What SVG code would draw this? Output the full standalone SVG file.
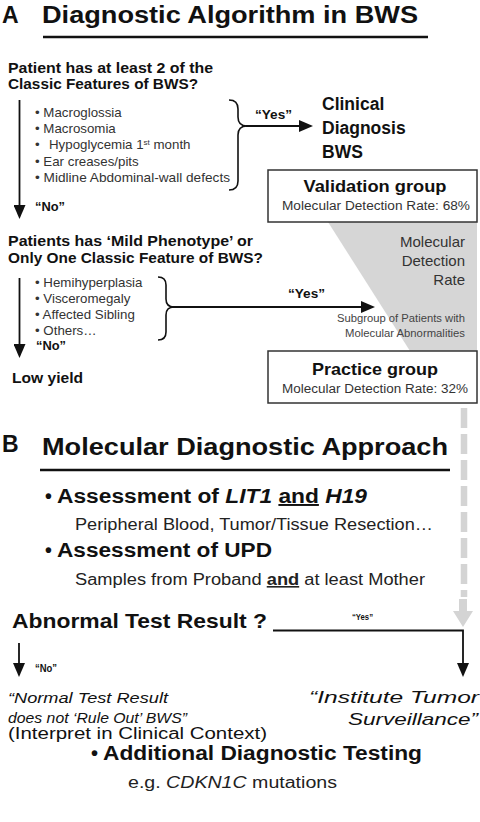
<svg xmlns="http://www.w3.org/2000/svg" width="480" height="822" viewBox="0 0 480 822">
<defs>
<style>
text{font-family:"Liberation Sans",Arial,Helvetica,sans-serif;fill:#111}
.b{font-weight:bold}
.i{font-style:italic}
.big{font-size:23px;font-weight:bold}
.q{font-size:15.5px;font-weight:bold}
.li{font-size:13.3px;fill:#333}
.yn{font-size:12px;font-weight:bold}
.bx{fill:#fff;stroke:#333;stroke-width:1.5}
.gt{font-size:17px;font-weight:bold}
.rt{font-size:12.5px;fill:#333}
.ln{stroke:#111;stroke-width:1.8;fill:none}
.br{stroke:#111;stroke-width:1.6;fill:none}
.h2{font-size:19.5px;font-weight:bold}
.sub{font-size:16px;fill:#222}
.grey{fill:#d6d6d6}
</style>
<marker id="arr" viewBox="0 0 14 12" markerWidth="14" markerHeight="12" markerUnits="userSpaceOnUse" refX="10" refY="6" orient="auto">
<path d="M0,0 L14,6 L0,12 z" fill="#111"/>
</marker>
</defs>
<rect width="480" height="822" fill="#fff"/>

<!-- grey detection-rate band -->
<polygon class="grey" points="328,222 477,222 477,351 410,351"/>

<g id="titleA">
<text x="2" y="23" class="big" font-size="24">A</text>
<text x="42" y="23" class="big" textLength="376" lengthAdjust="spacingAndGlyphs">Diagnostic Algorithm in BWS</text>
<line x1="43" y1="37" x2="428" y2="37" stroke="#111" stroke-width="2.5"/>
</g>

<g id="q1">
<text x="8" y="72.5" class="q" textLength="205" lengthAdjust="spacingAndGlyphs">Patient has at least 2 of the</text>
<text x="8" y="89" class="q" textLength="190" lengthAdjust="spacingAndGlyphs">Classic Features of BWS?</text>
</g>

<g id="q1-features">
<text x="35" y="117" class="li">• Macroglossia</text>
<text x="35" y="133" class="li">• Macrosomia</text>
<text x="35" y="149" class="li">•<tspan x="49">Hypoglycemia 1</tspan><tspan font-size="8" dy="-4.5">st</tspan><tspan dy="4.5"> month</tspan></text>
<text x="35" y="166" class="li">• Ear creases/pits</text>
<text x="35" y="182" class="li" textLength="195" lengthAdjust="spacingAndGlyphs">• Midline Abdominal-wall defects</text>
</g>

<g id="clinical">
<text x="322" y="110" class="b" font-size="17.5">Clinical</text>
<text x="322" y="134" class="b" font-size="17.5">Diagnosis</text>
<text x="322" y="158" class="b" font-size="17.5">BWS</text>
</g>

<g id="validation">
<rect x="268" y="170" width="209" height="52" class="bx"/>
<text x="375" y="192" class="gt" text-anchor="middle" textLength="143" lengthAdjust="spacingAndGlyphs">Validation group</text>
<text x="376" y="210" class="rt" text-anchor="middle" textLength="188" lengthAdjust="spacingAndGlyphs">Molecular Detection Rate: 68%</text>
</g>

<g id="rate-label">
<text x="465" y="247" font-size="15" text-anchor="end" style="fill:#333">Molecular</text>
<text x="465" y="266" font-size="15" text-anchor="end" style="fill:#333">Detection</text>
<text x="465" y="285" font-size="15" text-anchor="end" style="fill:#333">Rate</text>
<text x="465" y="322" font-size="10" text-anchor="end" style="fill:#444" textLength="128" lengthAdjust="spacingAndGlyphs">Subgroup of Patients with</text>
<text x="465" y="337" font-size="10" text-anchor="end" style="fill:#444" textLength="120" lengthAdjust="spacingAndGlyphs">Molecular Abnormalities</text>
</g>

<g id="q2">
<text x="8" y="246" class="q" textLength="245" lengthAdjust="spacingAndGlyphs">Patients has ‘Mild Phenotype’ or</text>
<text x="8" y="263" class="q" textLength="255" lengthAdjust="spacingAndGlyphs">Only One Classic Feature of BWS?</text>
</g>

<g id="q2-features">
<text x="35" y="287" class="li">• Hemihyperplasia</text>
<text x="35" y="303" class="li">• Visceromegaly</text>
<text x="35" y="319" class="li">• Affected Sibling</text>
<text x="35" y="335" class="li">• Others…</text>
</g>

<g id="lowyield">
<text x="12" y="383" class="b" font-size="14" textLength="71" lengthAdjust="spacingAndGlyphs">Low yield</text>
</g>

<g id="practice">
<rect x="268" y="351" width="209" height="52" class="bx"/>
<text x="375" y="375" class="gt" text-anchor="middle" textLength="126" lengthAdjust="spacingAndGlyphs">Practice group</text>
<text x="375" y="393" class="rt" text-anchor="middle" textLength="186" lengthAdjust="spacingAndGlyphs">Molecular Detection Rate: 32%</text>
</g>

<g id="titleB">
<text x="2" y="452" class="big">B</text>
<text x="42" y="455" class="big" textLength="406" lengthAdjust="spacingAndGlyphs">Molecular Diagnostic Approach</text>
<line x1="40" y1="470" x2="450" y2="470" stroke="#111" stroke-width="2.5"/>
</g>

<g id="lit1">
<text x="45" y="503" class="h2">•</text>
<text x="57" y="503" class="h2" textLength="310" lengthAdjust="spacingAndGlyphs">Assessment of <tspan class="i">LIT1</tspan> <tspan text-decoration="underline">and</tspan> <tspan class="i">H19</tspan></text>
<text x="75" y="530" class="sub" textLength="358" lengthAdjust="spacingAndGlyphs">Peripheral Blood, Tumor/Tissue Resection…</text>
</g>

<g id="upd">
<text x="45" y="557" class="h2">•</text>
<text x="57" y="557" class="h2" textLength="215" lengthAdjust="spacingAndGlyphs">Assessment of UPD</text>
<text x="75" y="585" class="sub" textLength="350" lengthAdjust="spacingAndGlyphs">Samples from Proband <tspan class="b" text-decoration="underline">and</tspan> at least Mother</text>
</g>

<g id="abnormal">
<text x="12" y="628" class="b" font-size="20.5" textLength="255" lengthAdjust="spacingAndGlyphs">Abnormal Test Result ?</text>
</g>

<g id="normal">
<text x="8" y="703" class="i" font-size="15" textLength="160" lengthAdjust="spacingAndGlyphs">“Normal Test Result</text>
<text x="8" y="723" class="i" font-size="15" textLength="179" lengthAdjust="spacingAndGlyphs">does not ‘Rule Out’ BWS”</text>
<text x="8" y="739" font-size="16" textLength="259" lengthAdjust="spacingAndGlyphs">(Interpret in Clinical Context)</text>
</g>

<g id="surveillance">
<text x="479" y="703" class="i" font-size="17" text-anchor="end" textLength="170" lengthAdjust="spacingAndGlyphs">“Institute Tumor</text>
<text x="478" y="725" class="i" font-size="17" text-anchor="end" textLength="130" lengthAdjust="spacingAndGlyphs">Surveillance”</text>
</g>

<g id="additional">
<text x="91" y="760" class="b" font-size="20">•</text>
<text x="103" y="760" class="b" font-size="20" textLength="319" lengthAdjust="spacingAndGlyphs">Additional Diagnostic Testing</text>
<text x="128" y="788" font-size="16" style="fill:#222" textLength="209" lengthAdjust="spacingAndGlyphs">e.g. <tspan class="i">CDKN1C</tspan> mutations</text>
</g>

<g id="connectors">
<path class="br" d="M229,100 Q238,100 238,109 L238,117 Q238,126 247,126 Q238,126 238,135 L238,181 Q238,190 229,190"/>
<path class="br" d="M158,277 Q166,277 166,285 L166,299 Q166,307 174,307 Q166,307 166,315 L166,332 Q166,340 158,340"/>
<line class="ln" x1="19.5" y1="100" x2="19.5" y2="215" marker-end="url(#arr)"/>
<line class="ln" x1="246" y1="126" x2="309" y2="126" marker-end="url(#arr)"/>
<line class="ln" x1="19.5" y1="278" x2="19.5" y2="354" marker-end="url(#arr)"/>
<line class="ln" x1="173" y1="307" x2="371" y2="307" marker-end="url(#arr)"/>
<text x="255" y="119" class="yn" textLength="37" lengthAdjust="spacingAndGlyphs">“Yes”</text>
<text x="35" y="211" class="yn" textLength="30" lengthAdjust="spacingAndGlyphs">“No”</text>
<text x="288" y="298" class="yn" textLength="37" lengthAdjust="spacingAndGlyphs">“Yes”</text>
<text x="36" y="350" class="yn" textLength="30" lengthAdjust="spacingAndGlyphs">“No”</text>
<line x1="464" y1="408" x2="464" y2="597" stroke="#d4d4d4" stroke-width="6.5" stroke-dasharray="20 6"/>
<line x1="463" y1="599" x2="463" y2="613" stroke="#d4d4d4" stroke-width="8"/>
<polygon points="453,611 473,611 463,627" fill="#d4d4d4"/>
<path class="ln" d="M273,630.5 H463 V673" marker-end="url(#arr)"/>
<line class="ln" x1="19" y1="643" x2="19" y2="673" marker-end="url(#arr)"/>
<text x="352" y="620" class="b" font-size="9.5" textLength="21" lengthAdjust="spacingAndGlyphs">“Yes”</text>
<text x="35" y="672" class="b" font-size="10" textLength="22" lengthAdjust="spacingAndGlyphs">“No”</text>
</g>
</svg>
